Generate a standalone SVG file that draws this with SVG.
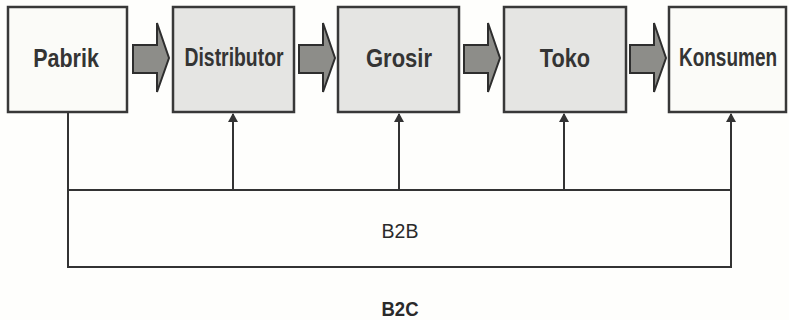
<svg xmlns="http://www.w3.org/2000/svg" width="789" height="320" viewBox="0 0 789 320">
<defs>
<style>
.box{stroke:#383838;stroke-width:2.5}
.w{fill:#fbfbf8}
.g{fill:#e5e5e3}
.lbl{font-family:"Liberation Sans",Arial,sans-serif;font-weight:bold;font-size:25px;fill:#343434;text-anchor:middle}
.flow{fill:#8d8d89;stroke:#2e2e2e;stroke-width:2;stroke-linejoin:miter}
.ln{fill:none;stroke:#333;stroke-width:2}
.cap{font-family:"Liberation Sans",Arial,sans-serif;font-size:19.5px;fill:#2a2a2a;text-anchor:middle}
.tip{fill:#333}
</style>
</defs>
<rect width="789" height="320" fill="#fefefc"/>

<g id="pabrik">
<rect class="box w" x="8" y="7" width="119" height="105"/>
<text class="lbl" transform="translate(66,67) scale(0.86,1)">Pabrik</text>
</g>
<g id="distributor">
<rect class="box g" x="173" y="7" width="121" height="105"/>
<text class="lbl" transform="translate(234,66) scale(0.775,1)">Distributor</text>
</g>
<g id="grosir">
<rect class="box g" x="338" y="7" width="121" height="105"/>
<text class="lbl" transform="translate(399,67) scale(0.88,1)">Grosir</text>
</g>
<g id="toko">
<rect class="box g" x="504" y="7" width="122" height="105"/>
<text class="lbl" transform="translate(565,67) scale(0.87,1)">Toko</text>
</g>
<g id="konsumen">
<rect class="box w" x="669" y="7" width="117" height="105"/>
<text class="lbl" transform="translate(728,66) scale(0.76,1)">Konsumen</text>
</g>

<g id="connectors">
<polygon class="flow" points="133,45 157,45 157,23 169,58 157,92 157,73 133,73"/>
<polygon class="flow" points="299,45 323,45 323,23 335,58 323,92 323,73 299,73"/>
<polygon class="flow" points="464,45 488,45 488,23 500,58 488,92 488,73 464,73"/>
<polygon class="flow" points="630,45 654,45 654,23 666,58 654,92 654,73 630,73"/>

<path class="ln" d="M68,113 V267 H731 V114"/>
<path class="ln" d="M68,190 H731"/>
<line class="ln" x1="233" y1="190" x2="233" y2="114"/>
<line class="ln" x1="399" y1="190" x2="399" y2="114"/>
<line class="ln" x1="564" y1="190" x2="564" y2="114"/>
<path class="tip" d="M228,122 L233,113 L238,122 Z"/>
<path class="tip" d="M394,122 L399,113 L404,122 Z"/>
<path class="tip" d="M559,122 L564,113 L569,122 Z"/>
<path class="tip" d="M726,122 L731,113 L736,122 Z"/>
</g>

<text class="cap" transform="translate(400,238) scale(1,1)">B2B</text>
<text class="cap" font-weight="bold" transform="translate(400,316) scale(0.95,1)">B2C</text>
</svg>
